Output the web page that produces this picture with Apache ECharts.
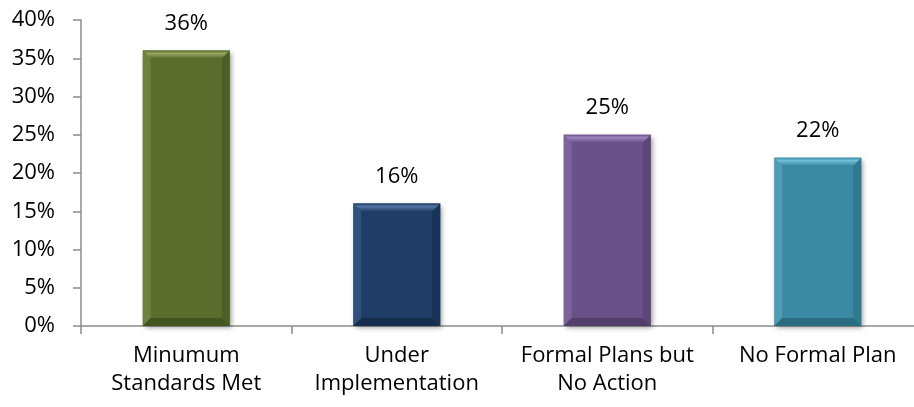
<!DOCTYPE html>
<html>
<head>
<meta charset="utf-8">
<style>
  html, body { margin: 0; padding: 0; background: #fff; }
  #chart { width: 914px; height: 407px; }
</style>
<script src="https://cdn.jsdelivr.net/npm/echarts@6/dist/echarts.min.js"></script>
</head>
<body>
<div id="chart"></div>
<script>
// Implementation status of minimum standards
const categories = ['Minumum\nStandards Met', 'Under\nImplementation', 'Formal Plans but\nNo Action', 'No Formal Plan'];
const shares = [36, 16, 25, 22];
const yTicks = { min: 0, max: 40, interval: 5 };

// face / light edge / dark edge per bar
const faceColors = ['#5b6d2c', '#1f3d66', '#6a5189', '#3a8aa3'];
const lightColors = ['#93a65e', '#5275a3', '#9c86ba', '#72c1d8'];
const darkColors = ['#3f4d1c', '#142a48', '#4b3964', '#256578'];

const FONT = '"Open Sans", "Liberation Sans", sans-serif';
const AXIS_GRAY = '#8c8c8c';

function bevelBar(params, api) {
  const idx = api.value(0);
  const val = api.value(1);
  const top = api.coord([idx, val]);
  const base = api.coord([idx, 0]);
  const w = api.size([1, 0])[0] * 0.414;
  const x0 = top[0] - w / 2, x1 = x0 + w;
  const y0 = top[1], y1 = base[1];
  const b = 8;
  const i = params.dataIndex;
  return {
    type: 'group',
    children: [
      {
        type: 'rect',
        shape: { x: x0, y: y0, width: w, height: y1 - y0 },
        style: {
          fill: faceColors[i],
          shadowBlur: 5, shadowOffsetX: 2, shadowOffsetY: 2,
          shadowColor: 'rgba(0,0,0,0.4)'
        }
      },
      {
        type: 'polygon',
        shape: { points: [[x0, y0], [x1, y0], [x1 - b, y0 + b], [x0 + b, y0 + b]] },
        style: {
          fill: new echarts.graphic.LinearGradient(0, 0, 0, 1, [
            { offset: 0, color: faceColors[i] },
            { offset: 0.35, color: lightColors[i] },
            { offset: 1, color: faceColors[i] }
          ])
        }
      },
      {
        type: 'polygon',
        shape: { points: [[x0, y0], [x0 + b, y0 + b], [x0 + b, y1 - b], [x0, y1]] },
        style: { fill: lightColors[i], opacity: 0.35 }
      },
      {
        type: 'polygon',
        shape: { points: [[x1, y0], [x1 - b, y0 + b], [x1 - b, y1 - b], [x1, y1]] },
        style: { fill: darkColors[i], opacity: 0.45 }
      },
      {
        type: 'polygon',
        shape: { points: [[x0, y1], [x1, y1], [x1 - b, y1 - b], [x0 + b, y1 - b]] },
        style: { fill: darkColors[i], opacity: 0.8 }
      },
      {
        type: 'text',
        style: {
          text: val + '%',
          x: top[0], y: y0 - 16,
          align: 'center', verticalAlign: 'bottom',
          font: '22px ' + FONT,
          fill: '#000'
        }
      }
    ]
  };
}

const chart = echarts.init(document.getElementById('chart'), null, { renderer: 'canvas' });
chart.setOption({
  animation: false,
  backgroundColor: '#fff',
  grid: { left: 81, top: 20, width: 842, height: 306, containLabel: false, outerBoundsMode: 'none' },
  xAxis: {
    type: 'category',
    data: categories,
    boundaryGap: true,
    axisLine: { lineStyle: { color: AXIS_GRAY, width: 1.5 } },
    axisTick: { show: true, length: 8, alignWithLabel: false, lineStyle: { color: AXIS_GRAY, width: 1.5 } },
    axisLabel: { color: '#000', fontFamily: FONT, fontSize: 22, lineHeight: 28, margin: 16, interval: 0 }
  },
  yAxis: {
    type: 'value',
    min: yTicks.min, max: yTicks.max, interval: yTicks.interval,
    splitLine: { show: false },
    axisLine: { show: true, lineStyle: { color: AXIS_GRAY, width: 1.5 } },
    axisTick: { show: true, length: 8, lineStyle: { color: AXIS_GRAY, width: 1.5 } },
    axisLabel: { color: '#000', fontFamily: FONT, fontSize: 22, margin: 26, formatter: '{value}%' }
  },
  series: [{
    type: 'custom',
    renderItem: bevelBar,
    encode: { x: 0, y: 1 },
    data: shares.map((v, i) => [i, v]),
    clip: false
  }]
});
</script>
</body>
</html>
